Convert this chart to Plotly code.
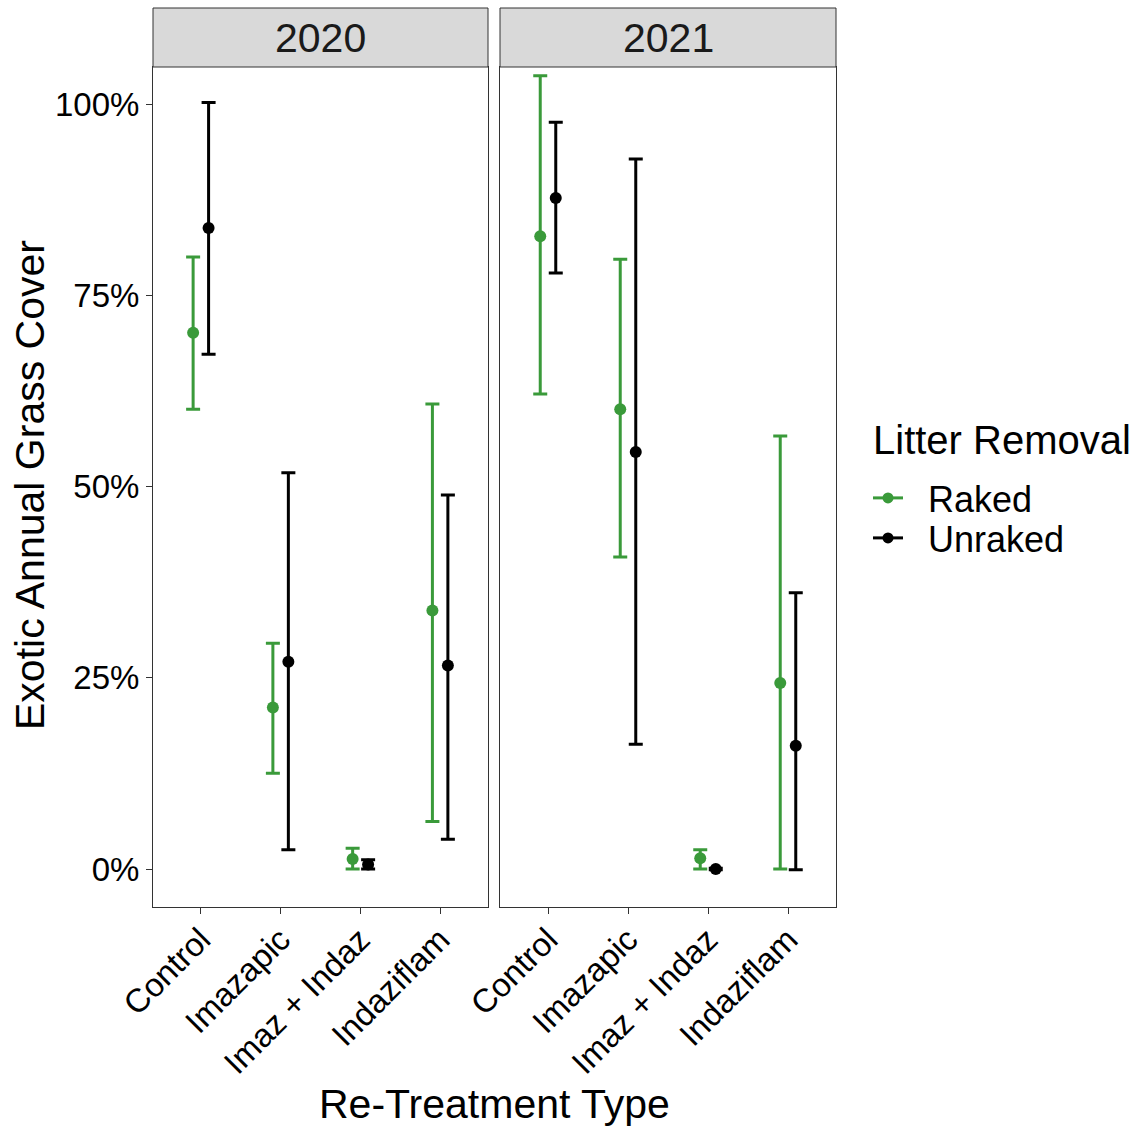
import plotly.graph_objects as go

# ---------------- data ----------------
treatments = ["Control", "Imazapic", "Imaz + Indaz", "Indaziflam"]
years = ["2020", "2021"]
groups = ["Raked", "Unraked"]

raked_2020_mean = [0.701, 0.211, 0.013, 0.338]
raked_2020_low = [0.601, 0.125, 0.000, 0.062]
raked_2020_high = [0.800, 0.295, 0.027, 0.608]

unraked_2020_mean = [0.838, 0.271, 0.006, 0.266]
unraked_2020_low = [0.673, 0.025, 0.000, 0.039]
unraked_2020_high = [1.002, 0.518, 0.012, 0.489]

raked_2021_mean = [0.827, 0.601, 0.014, 0.243]
raked_2021_low = [0.621, 0.408, 0.000, 0.000]
raked_2021_high = [1.037, 0.797, 0.025, 0.566]

unraked_2021_mean = [0.877, 0.545, 0.000, 0.161]
unraked_2021_low = [0.779, 0.163, -0.001, -0.001]
unraked_2021_high = [0.976, 0.928, 0.001, 0.361]

y_tick_vals = [0, 0.25, 0.5, 0.75, 1.0]
y_tick_text = ["0%", "25%", "50%", "75%", "100%"]

# ---------------- style ----------------
FONT = "Liberation Sans, Arial, sans-serif"
COLORS = {"Raked": "#3a9a3a", "Unraked": "#000000"}
DODGE = {"Raked": -0.097, "Unraked": 0.097}
W, H = 1144, 1129
L, R, T, B = 153, 1144 - 836, 67, 1129 - 907
PW = W - L - R
PH = H - T - B
dom1 = [0, (488 - 153) / PW]
dom2 = [(500 - 153) / PW, 1]
y_range = [-(907 - 869) / 765, (869 - 67) / 765]


def px_x(px):
    return (px - L) / PW


def px_y(py):
    return (H - B - py) / PH


series = {
    ("2020", "Raked"): (raked_2020_mean, raked_2020_low, raked_2020_high),
    ("2020", "Unraked"): (unraked_2020_mean, unraked_2020_low, unraked_2020_high),
    ("2021", "Raked"): (raked_2021_mean, raked_2021_low, raked_2021_high),
    ("2021", "Unraked"): (unraked_2021_mean, unraked_2021_low, unraked_2021_high),
}

fig = go.Figure()
for (yr, grp), (m, lo, hi) in series.items():
    axn = "" if yr == "2020" else "2"
    xs = [i + 1 + DODGE[grp] for i in range(len(treatments))]
    fig.add_trace(go.Scatter(
        x=xs, y=m, mode="markers",
        xaxis="x" + axn, yaxis="y" + axn,
        marker=dict(color=COLORS[grp], size=12, symbol="circle"),
        error_y=dict(type="data", symmetric=False,
                     array=[h - v for h, v in zip(hi, m)],
                     arrayminus=[v - l for v, l in zip(m, lo)],
                     color=COLORS[grp], thickness=3, width=7),
        showlegend=False, cliponaxis=False, hoverinfo="skip",
    ))

NBSP = "\u00a0"
for grp, leg in zip(groups, ["legend", "legend2"]):
    fig.add_trace(go.Scatter(
        x=[None], y=[None], mode="lines+markers", name=NBSP * 2 + grp,
        line=dict(color=COLORS[grp], width=3),
        marker=dict(color=COLORS[grp], size=11),
        showlegend=True, legend=leg,
    ))

axis_common = dict(
    showline=True, mirror=True, linecolor="#333333", linewidth=1,
    showgrid=False, zeroline=False, ticks="outside", ticklen=6,
    tickcolor="#333333", tickwidth=1,
)

xcommon = dict(axis_common, range=[0.4, 4.6], tickmode="array",
               tickvals=[1, 2, 3, 4], ticktext=treatments, tickangle=-45,
               ticklabelstandoff=-7,
               tickfont=dict(family=FONT, size=33, color="#000000"))

leg_common = dict(xanchor="left", yanchor="middle",
                  font=dict(family=FONT, size=36, color="#000000"),
                  bgcolor="rgba(0,0,0,0)", itemsizing="trace",
                  tracegroupgap=0)

fig.update_layout(
    width=W, height=H,
    margin=dict(l=L, r=R, t=T, b=B, autoexpand=False),
    paper_bgcolor="white", plot_bgcolor="white",
    font=dict(family=FONT, color="#000000"),
    xaxis=dict(xcommon, domain=dom1, anchor="y"),
    xaxis2=dict(xcommon, domain=dom2, anchor="y2"),
    yaxis=dict(axis_common, range=y_range, domain=[0, 1], anchor="x",
               tickmode="array", tickvals=y_tick_vals, ticktext=y_tick_text,
               tickfont=dict(family=FONT, size=33, color="#000000")),
    yaxis2=dict(axis_common, range=y_range, domain=[0, 1], anchor="x2",
                matches="y", showticklabels=False, ticks=""),
    legend=dict(leg_common, x=px_x(868), y=px_y(498)),
    legend2=dict(leg_common, x=px_x(868), y=px_y(538)),
    showlegend=True,
)

# legend title
fig.add_annotation(text="Litter Removal", xref="paper", yref="paper",
                   x=px_x(871), y=px_y(440), xanchor="left", yanchor="middle",
                   showarrow=False,
                   font=dict(family=FONT, size=40, color="#000000"))

# facet strips
for yr, dom in zip(years, [dom1, dom2]):
    fig.add_shape(type="rect", xref="paper", yref="paper",
                  x0=dom[0], x1=dom[1], y0=1.0, y1=px_y(8),
                  fillcolor="#d9d9d9", line=dict(color="#333333", width=1),
                  layer="above")
    fig.add_annotation(text=yr, xref="paper", yref="paper",
                       x=(dom[0] + dom[1]) / 2, y=px_y(38),
                       xanchor="center", yanchor="middle", showarrow=False,
                       font=dict(family=FONT, size=41, color="#1a1a1a"))

# axis titles
fig.add_annotation(text="Exotic Annual Grass Cover", xref="paper", yref="paper",
                   x=px_x(30), y=px_y(485), xanchor="center", yanchor="middle",
                   textangle=-90, showarrow=False,
                   font=dict(family=FONT, size=41, color="#000000"))
fig.add_annotation(text="Re-Treatment Type", xref="paper", yref="paper",
                   x=px_x(494), y=px_y(1104),
                   xanchor="center", yanchor="middle", showarrow=False,
                   font=dict(family=FONT, size=41, color="#000000"))

fig.write_html("out.html",
               config={"displayModeBar": False},
               post_script="document.body.style.margin='0px';"
                           "document.body.style.padding='0px';")
